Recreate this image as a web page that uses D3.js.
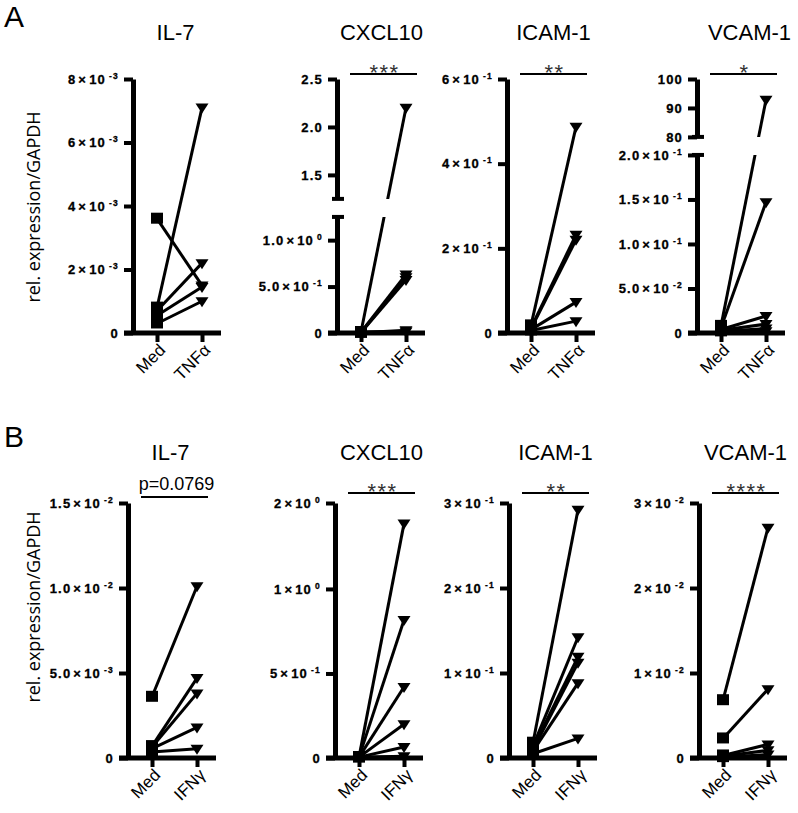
<!DOCTYPE html>
<html><head><meta charset="utf-8">
<script src="https://cdn.jsdelivr.net/npm/d3@7"></script>
<style>body{margin:0;background:#fff}</style>
</head><body>
<svg id="chart" width="798" height="813" xmlns="http://www.w3.org/2000/svg"></svg>
<script>
// ---------- DATA ----------
const genes = ["IL-7", "CXCL10", "ICAM-1", "VCAM-1"];
const groupsA = ["Med", "TNFα"];
const groupsB = ["Med", "IFNγ"];
const significanceA = [null, "***", "**", "*"];
const significanceB = ["p=0.0769", "***", "**", "****"];

// Row A (TNFα)
const A_IL7_med = [0.0036, 0.0008, 0.0007, 0.00055, 0.0003];
const A_IL7_trt = [0.0015, 0.0071, 0.0022, 0.00145, 0.0010];
const A_CXCL10_med = [0.01, 0.008, 0.006, 0.005, 0.004, 0.01];
const A_CXCL10_trt = [2.2, 0.63, 0.60, 0.57, 0.03, 0.015];
const A_ICAM_med = [0.018, 0.012, 0.010, 0.008, 0.006];
const A_ICAM_trt = [0.487, 0.232, 0.220, 0.073, 0.028];
const A_VCAM_med = [0.008, 0.006, 0.004, 0.003, 0.002, 0.002];
const A_VCAM_trt = [92.8, 0.147, 0.019, 0.010, 0.005, 0.002];

// Row B (IFNγ)
const B_IL7_med = [0.0036, 0.0007, 0.00065, 0.00055, 0.00035];
const B_IL7_trt = [0.0101, 0.0047, 0.0038, 0.0018, 0.00055];
const B_CXCL10_med = [0.005, 0.005, 0.005, 0.005, 0.005, 0.005];
const B_CXCL10_trt = [1.76, 0.816, 0.42, 0.20, 0.065, 0.01];
const B_ICAM_med = [0.018, 0.014, 0.012, 0.010, 0.008, 0.005];
const B_ICAM_trt = [0.292, 0.142, 0.119, 0.112, 0.088, 0.023];
const B_VCAM_med = [0.0068, 0.0023, 0.0003, 0.0002, 0.0001];
const B_VCAM_trt = [0.0271, 0.0081, 0.0016, 0.0009, 0.0004];

// Axis segments (ticks, labels)
const A_IL7_ticks = [0, 0.002, 0.004, 0.006, 0.008];
const A_IL7_labels = ["0", "2×10^-3", "4×10^-3", "6×10^-3", "8×10^-3"];
const A_CXCL10_lowTicks = [0, 0.5, 1.0];
const A_CXCL10_lowLabels = ["0", "5.0×10^-1", "1.0×10^0"];
const A_CXCL10_highTicks = [1.5, 2.0, 2.5];
const A_CXCL10_highLabels = ["1.5", "2.0", "2.5"];
const A_ICAM_ticks = [0, 0.2, 0.4, 0.6];
const A_ICAM_labels = ["0", "2×10^-1", "4×10^-1", "6×10^-1"];
const A_VCAM_lowTicks = [0, 0.05, 0.10, 0.15, 0.20];
const A_VCAM_lowLabels = ["0", "5.0×10^-2", "1.0×10^-1", "1.5×10^-1", "2.0×10^-1"];
const A_VCAM_highTicks = [80, 90, 100];
const A_VCAM_highLabels = ["80", "90", "100"];

const B_IL7_ticks = [0, 0.005, 0.010, 0.015];
const B_IL7_labels = ["0", "5.0×10^-3", "1.0×10^-2", "1.5×10^-2"];
const B_CXCL10_ticks = [0, 0.5, 1, 2];
const B_CXCL10_labels = ["0", "5×10^-1", "1×10^0", "2×10^0"];
const B_ICAM_ticks = [0, 0.1, 0.2, 0.3];
const B_ICAM_labels = ["0", "1×10^-1", "2×10^-1", "3×10^-1"];
const B_VCAM_ticks = [0, 0.01, 0.02, 0.03];
const B_VCAM_labels = ["0", "1×10^-2", "2×10^-2", "3×10^-2"];

// ---------- LAYOUT ----------
const SANS = "'Liberation Sans', Arial, Helvetica, sans-serif";
const svg = d3.select("#chart");
const rowA = {top: 79, bottom: 333};
const rowB = {top: 503, bottom: 758};

const panels = [
  {row: rowA, ax: 133, title: genes[0], groups: groupsA, med: A_IL7_med, trt: A_IL7_trt, sig: significanceA[0], tdx: -4,
   segs: [{domain: [0, 0.008], frac: [0, 1], ticks: A_IL7_ticks, labels: A_IL7_labels}]},
  {row: rowA, ax: 337, title: genes[1], groups: groupsA, med: A_CXCL10_med, trt: A_CXCL10_trt, sig: significanceA[1], tdx: -2,
   segs: [{domain: [0, 1.25], frac: [0, 0.457], ticks: A_CXCL10_lowTicks, labels: A_CXCL10_lowLabels},
          {domain: [1.25, 2.5], frac: [0.528, 1], ticks: A_CXCL10_highTicks, labels: A_CXCL10_highLabels}]},
  {row: rowA, ax: 507, title: genes[2], groups: groupsA, med: A_ICAM_med, trt: A_ICAM_trt, sig: significanceA[2],
   segs: [{domain: [0, 0.6], frac: [0, 1], ticks: A_ICAM_ticks, labels: A_ICAM_labels}]},
  {row: rowA, ax: 697, title: genes[3], groups: groupsA, med: A_VCAM_med, trt: A_VCAM_trt, sig: significanceA[3], tdx: 6,
   segs: [{domain: [0, 0.2], frac: [0, 0.701], ticks: A_VCAM_lowTicks, labels: A_VCAM_lowLabels},
          {domain: [80, 100], frac: [0.772, 1], ticks: A_VCAM_highTicks, labels: A_VCAM_highLabels}]},
  {row: rowB, ax: 128, title: genes[0], groups: groupsB, med: B_IL7_med, trt: B_IL7_trt, sig: significanceB[0], tdx: -4,
   segs: [{domain: [0, 0.015], frac: [0, 1], ticks: B_IL7_ticks, labels: B_IL7_labels}]},
  {row: rowB, ax: 335, title: genes[1], groups: groupsB, med: B_CXCL10_med, trt: B_CXCL10_trt, sig: significanceB[1],
   segs: [{domain: [0, 1, 2], frac: [0, 0.663, 1], ticks: B_CXCL10_ticks, labels: B_CXCL10_labels}]},
  {row: rowB, ax: 509, title: genes[2], groups: groupsB, med: B_ICAM_med, trt: B_ICAM_trt, sig: significanceB[2],
   segs: [{domain: [0, 0.3], frac: [0, 1], ticks: B_ICAM_ticks, labels: B_ICAM_labels}]},
  {row: rowB, ax: 699, title: genes[3], groups: groupsB, med: B_VCAM_med, trt: B_VCAM_trt, sig: significanceB[3],
   segs: [{domain: [0, 0.03], frac: [0, 1], ticks: B_VCAM_ticks, labels: B_VCAM_labels}]}
];

function writeLabel(textSel, label) {
  textSel.text(null);
  const m = label.match(/^([\d.]+)×10\^(-?\d+)$/);
  if (!m) { textSel.append("tspan").text(label); return; }
  textSel.append("tspan").text(m[1]);
  textSel.append("tspan").attr("dx", 2).text("×");
  textSel.append("tspan").attr("dx", 2).text("10");
  textSel.append("tspan").attr("style", "font-size:8.5px").attr("dy", "-5").attr("dx", 3).text(m[2]);
}

let clipId = 0;
panels.forEach(p => {
  const g = svg.append("g");
  const H = p.row.bottom - p.row.top;
  const y0 = p.row.bottom;
  const x = d3.scalePoint().domain(p.groups).range([p.ax + 24, p.ax + 69]);
  const scales = p.segs.map(s => d3.scaleLinear().domain(s.domain).range(s.frac.map(f => y0 - f * H)));
  const y = v => {
    for (let i = 0; i < p.segs.length; i++) {
      const d = p.segs[i].domain;
      if (v <= d[d.length - 1] || i === p.segs.length - 1) return scales[i](v);
    }
  };

  // y axis segments
  p.segs.forEach((s, i) => {
    const ax = d3.axisLeft(scales[i]).tickValues(s.ticks).tickSize(9).tickSizeOuter(0).tickPadding(5)
      .tickFormat((d, k) => s.labels[k]);
    const ag = g.append("g").attr("transform", `translate(${p.ax},0)`).call(ax)
      .attr("font-size", null).attr("font-family", null);
    ag.select(".domain").style("stroke", "#000").style("stroke-width", "5px");
    ag.selectAll(".tick line").style("stroke", "#000").style("stroke-width", "4px");
    ag.selectAll(".tick text")
      .style("font-family", SANS).style("font-weight", "bold").style("font-size", "13px")
      .style("fill", "#000").style("letter-spacing", "1.2px")
      .style("stroke", "#000").style("stroke-width", "0.3px")
      .each(function(d, k) { writeLabel(d3.select(this), s.labels[k]); });
  });
  // break caps
  if (p.segs.length > 1) {
    const capYs = [scales[0].range()[1], scales[1].range()[0]];
    g.selectAll(".cap").data(capYs).join("line")
      .attr("x1", p.ax - 5).attr("x2", p.ax + 7).attr("y1", d => d).attr("y2", d => d)
      .style("stroke", "#000").style("stroke-width", "4px");
  }

  // x axis line
  g.append("line").attr("x1", p.ax - 9).attr("x2", p.ax + 88).attr("y1", y0).attr("y2", y0)
    .style("stroke", "#000").style("stroke-width", "5px");
  const xa = d3.axisBottom(x).tickSize(9).tickSizeOuter(0);
  const xg = g.append("g").attr("transform", `translate(0,${y0})`).call(xa)
    .attr("font-size", null).attr("font-family", null);
  xg.select(".domain").remove();
  xg.selectAll(".tick line").style("stroke", "#000").style("stroke-width", "4px");
  xg.selectAll(".tick text").style("font-family", SANS).style("font-size", "17px").style("fill", "#000")
    .attr("text-anchor", "end").attr("dy", null).attr("y", 0)
    .attr("transform", "translate(9,18) rotate(-45)");

  // clip for broken axes
  let clip = null;
  if (p.segs.length > 1) {
    const id = "clip" + (clipId++);
    const cp = svg.append("clipPath").attr("id", id);
    const gapTop = scales[1].range()[0], gapBot = scales[0].range()[1];
    cp.append("rect").attr("x", p.ax).attr("y", 0).attr("width", 120).attr("height", gapTop);
    cp.append("rect").attr("x", p.ax).attr("y", gapBot).attr("width", 120).attr("height", 813 - gapBot);
    clip = `url(#${id})`;
  }

  // lines
  const pairs = p.med.map((m, i) => ({m, t: p.trt[i]}));
  g.append("g").attr("clip-path", clip).selectAll("line").data(pairs).join("line")
    .attr("x1", x(p.groups[0])).attr("y1", d => y(d.m))
    .attr("x2", x(p.groups[1])).attr("y2", d => y(d.t))
    .style("stroke", "#000").style("stroke-width", "3px");
  // markers
  g.append("g").selectAll("rect").data(p.med).join("rect")
    .attr("x", x(p.groups[0]) - 6).attr("y", d => y(d) - 6).attr("width", 12).attr("height", 11)
    .attr("fill", "#000");
  g.append("g").selectAll("path").data(p.trt).join("path")
    .attr("transform", d => `translate(${x(p.groups[1])},${y(d)})`)
    .attr("d", "M-6.5,-4L6.5,-4L0,6Z").attr("fill", "#000");

  // title
  const cx = (x(p.groups[0]) + x(p.groups[1])) / 2;
  g.append("text").attr("x", cx + (p.tdx || 0)).attr("y", p.row === rowA ? 40 : 460)
    .attr("text-anchor", "middle").style("font-family", SANS).style("font-size", "22px").attr("fill", "#000")
    .text(p.title);

  // significance
  if (p.sig) {
    const isP = p.sig.startsWith("p");
    const ly = p.row === rowA ? 74 : (isP ? 497 : 493);
    g.append("line").attr("x1", x(p.groups[0]) - 11).attr("x2", x(p.groups[1]) + 11)
      .attr("y1", ly).attr("y2", ly).style("stroke", "#000").style("stroke-width", "2px");
    if (isP) {
      g.append("text").attr("x", cx + 2).attr("y", ly - 7).attr("text-anchor", "middle")
        .style("font-family", SANS).style("font-size", "18px").attr("fill", "#000").text(p.sig);
    } else {
      g.append("text").attr("x", cx + 1).attr("y", ly + 6).attr("text-anchor", "middle")
        .style("font-family", SANS).style("font-size", "22px").style("letter-spacing", "1.5px")
        .attr("fill", "#333").text(p.sig);
    }
  }
});

// y axis titles
[{y: 207}, {y: 607}].forEach(d => {
  svg.append("text").attr("transform", `translate(40,${d.y}) rotate(-90)`)
    .attr("text-anchor", "middle").style("font-family", "'Open Sans', sans-serif").style("font-size", "18px")
    .attr("fill", "#000").text("rel. expression/GAPDH");
});
// panel letters
svg.append("text").attr("x", 4).attr("y", 27).style("font-family", SANS).style("font-size", "30px").text("A");
svg.append("text").attr("x", 4).attr("y", 447).style("font-family", SANS).style("font-size", "30px").text("B");
</script>
</body></html>
